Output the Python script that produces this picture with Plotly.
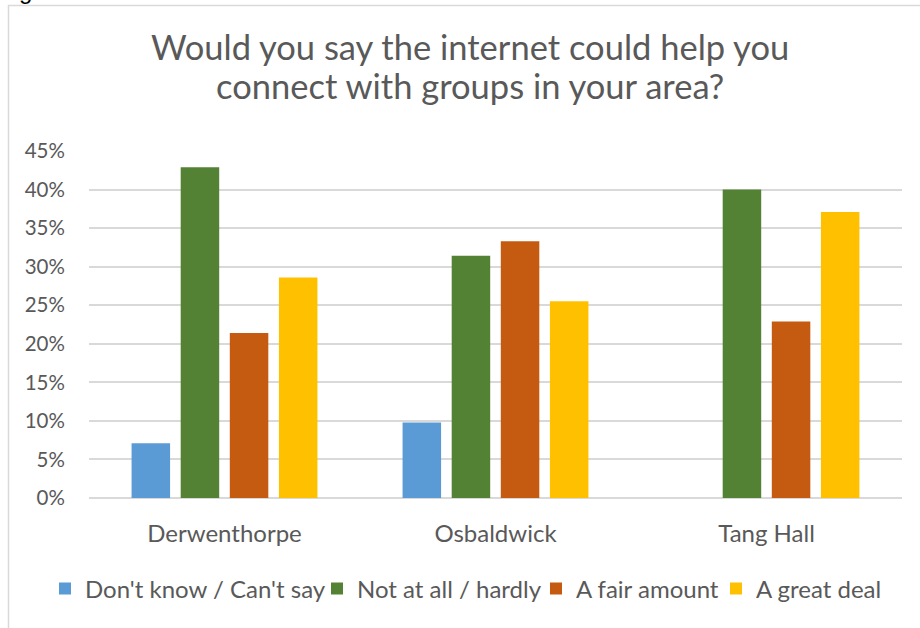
import plotly.graph_objects as go

# Survey responses by area (share of respondents)
areas = ["Derwenthorpe", "Osbaldwick", "Tang Hall"]
dont_know = [0.071, 0.098, 0.0]
not_at_all = [0.429, 0.314, 0.400]
fair_amount = [0.214, 0.333, 0.229]
great_deal = [0.286, 0.255, 0.371]

series_names = ["Don't know / Can't say", "Not at all / hardly", "A fair amount", "A great deal"]
series_values = [dont_know, not_at_all, fair_amount, great_deal]
series_colors = ["#5B9BD5", "#548235", "#C55A11", "#FFC000"]

y_ticks = [i / 100 for i in range(0, 50, 5)]
y_tick_labels = [f"{i}%" for i in range(0, 50, 5)]

title_lines = ["Would you say the internet could help you", "connect with groups in your area?"]

FONT = "Lato, Calibri, Carlito, sans-serif"
TEXT = "#595959"
GRID = "#D9D9D9"

W, H = 920, 628
L, R, T, B = 89, 18, 151, 130
pw, ph = W - L - R, H - T - B

def px_x(x):
    return (x - L) / pw

def px_y(y):
    return (H - B - y) / ph

# one legend box per series so the entries sit in a single tight row
legend_ids = ["legend", "legend2", "legend3", "legend4"]
legend_left_px = [45, 317, 536, 716]

fig = go.Figure()
for name, vals, col, lid in zip(series_names, series_values, series_colors, legend_ids):
    fig.add_trace(go.Bar(
        x=areas, y=vals, name=name, legend=lid,
        marker=dict(color=col, line=dict(width=0)),
        hoverinfo="x+y+name",
    ))

legends = {
    lid: dict(
        orientation="h", x=px_x(lx), xanchor="left",
        y=px_y(589), yanchor="middle",
        font=dict(size=24, color=TEXT, family=FONT),
        itemwidth=30, bgcolor="rgba(0,0,0,0)", borderwidth=0,
    )
    for lid, lx in zip(legend_ids, legend_left_px)
}

title_annotations = [
    dict(text=line, xref="paper", yref="paper", x=px_x(470), y=px_y(yc),
         xanchor="center", yanchor="middle", showarrow=False,
         font=dict(size=34.5, color=TEXT, family=FONT))
    for line, yc in zip(title_lines, [46, 85])
]

# fragment of the caption text sitting above the chart frame
caption_fragment = dict(
    text="g", xref="paper", yref="paper", x=px_x(17), y=px_y(6),
    xanchor="left", yanchor="bottom", showarrow=False,
    font=dict(size=24, color="#000000", family="Liberation Sans, sans-serif"),
)

fig.update_layout(
    width=W, height=H,
    margin=dict(l=L, r=R, t=T, b=B, pad=0),
    paper_bgcolor="white", plot_bgcolor="white",
    barmode="group", bargap=0.275, bargroupgap=0.216,
    font=dict(family=FONT, color=TEXT),
    showlegend=True,
    xaxis=dict(
        showgrid=False, showline=False, zeroline=False,
        ticks="outside", ticklen=14, tickcolor="rgba(0,0,0,0)",
        tickfont=dict(size=24, color=TEXT, family=FONT),
    ),
    yaxis=dict(
        range=[0, 0.45], tickvals=y_ticks, ticktext=y_tick_labels,
        showgrid=True, gridcolor=GRID, gridwidth=1.5,
        zeroline=True, zerolinecolor=GRID, zerolinewidth=1.5,
        showline=False,
        ticks="outside", ticklen=19, tickcolor="rgba(0,0,0,0)",
        tickfont=dict(size=20.5, color=TEXT, family=FONT),
    ),
    annotations=title_annotations + [caption_fragment],
    shapes=[dict(
        type="rect", xref="paper", yref="paper",
        x0=px_x(8.5), x1=px_x(940), y0=px_y(645), y1=px_y(5.5),
        line=dict(color=GRID, width=1.5), fillcolor="rgba(0,0,0,0)",
        layer="below",
    )],
    **legends,
)

fig.write_html("out.html")
